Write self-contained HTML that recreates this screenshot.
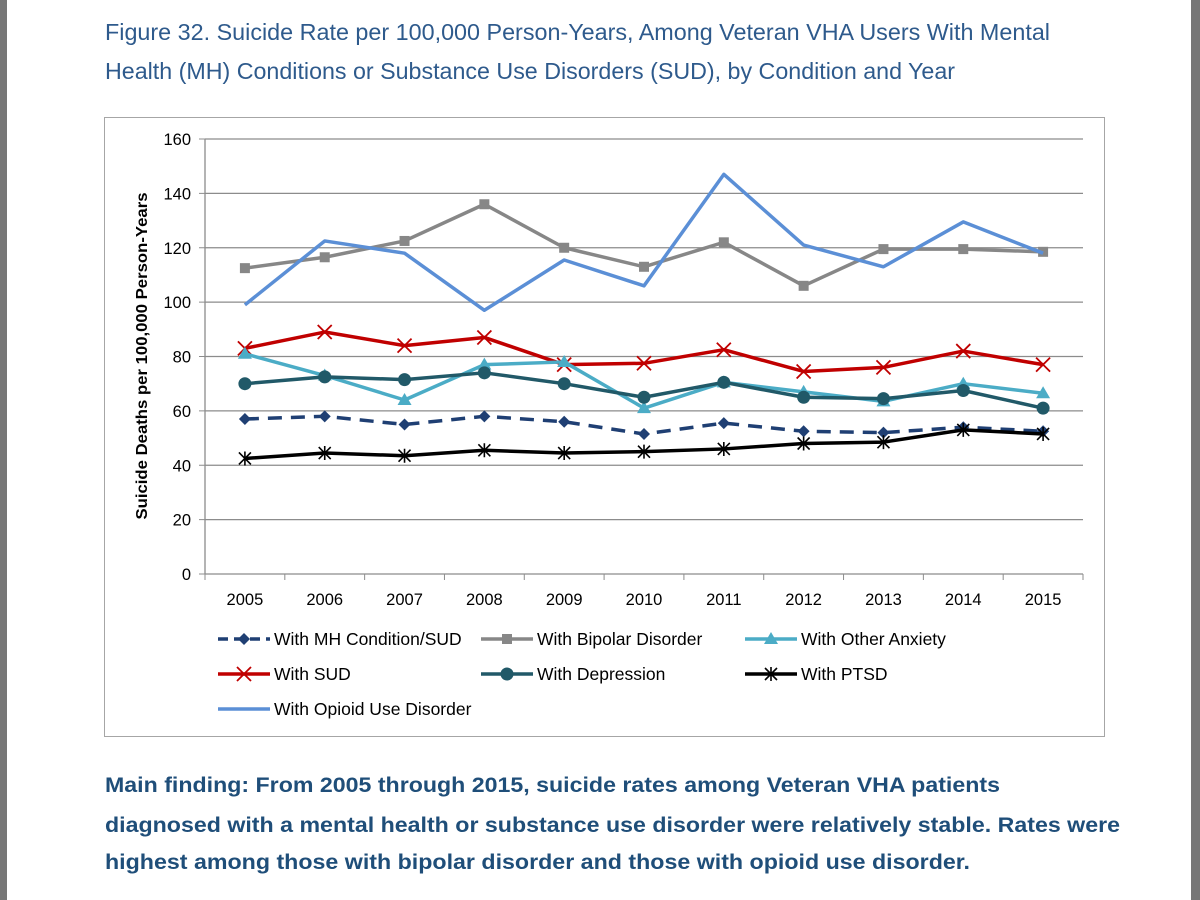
<!DOCTYPE html>
<html><head><meta charset="utf-8"><style>
html,body{margin:0;padding:0;background:#fff;}
svg{display:block;font-family:"Liberation Sans",sans-serif;}
</style></head><body>
<svg id="c" width="1200" height="900" viewBox="0 0 1200 900">
<rect x="0" y="0" width="7" height="900" fill="#777"/>
<rect x="1191" y="0" width="9" height="900" fill="#777"/>
<g fill="#2e5a8c" font-size="23">
<text x="105" y="40" textLength="945" lengthAdjust="spacingAndGlyphs">Figure 32. Suicide Rate per 100,000 Person-Years, Among Veteran VHA Users With Mental</text>
<text x="105" y="79" textLength="850" lengthAdjust="spacingAndGlyphs">Health (MH) Conditions or Substance Use Disorders (SUD), by Condition and Year</text>
</g>
<rect x="104.5" y="117.5" width="1000" height="619" fill="#fff" stroke="#a6a6a6"/>
<g id="grid"></g>
<g id="series"></g>
<text transform="translate(147,356) rotate(-90)" text-anchor="middle" font-size="16" font-weight="bold" fill="#000" textLength="327" lengthAdjust="spacingAndGlyphs">Suicide Deaths per 100,000 Person-Years</text>
<g id="legend" font-size="17.5" fill="#000"></g>
<g fill="#1f4e79" font-size="21" font-weight="bold">
<text x="105" y="792" textLength="895" lengthAdjust="spacingAndGlyphs">Main finding: From 2005 through 2015, suicide rates among Veteran VHA patients</text>
<text x="105" y="832" textLength="1015" lengthAdjust="spacingAndGlyphs">diagnosed with a mental health or substance use disorder were relatively stable. Rates were</text>
<text x="105" y="869" textLength="865" lengthAdjust="spacingAndGlyphs">highest among those with bipolar disorder and those with opioid use disorder.</text>
</g>
</svg>
<script>
const years=["2005","2006","2007","2008","2009","2010","2011","2012","2013","2014","2015"];
const yTicks=[0,20,40,60,80,100,120,140,160];
const mh=[57,58,55,58,56,51.5,55.5,52.5,52,54,52.5];
const bipolar=[112.5,116.5,122.5,136,120,113,122,106,119.5,119.5,118.5];
const anxiety=[81,73,64,77,78,61,70.5,67,63.5,70,66.5];
const sud=[83,89,84,87,77,77.5,82.5,74.5,76,82,77];
const depression=[70,72.5,71.5,74,70,65,70.5,65,64.5,67.5,61];
const ptsd=[42.5,44.5,43.5,45.5,44.5,45,46,48,48.5,53,51.5];
const opioid=[99,122.5,118,97,115.5,106,147,121,113,129.5,118];

const NS="http://www.w3.org/2000/svg";
const L=205,R=1083,T=139,B=574;
const bw=(R-L)/years.length;
const xs=i=>L+bw*(i+0.5);
const ys=v=>B-(v/160)*(B-T);
function mk(tag,attrs,parent){const e=document.createElementNS(NS,tag);for(const k in attrs)e.setAttribute(k,attrs[k]);parent.appendChild(e);return e;}
const grid=document.getElementById('grid');
yTicks.forEach(v=>{
  if(v>0){const g=mk('line',{x1:L,x2:R,y1:ys(v),y2:ys(v),stroke:'#8c8c8c','stroke-width':1.3},grid);
  
  }
  const tk=mk('line',{x1:L-6,x2:L,y1:ys(v),y2:ys(v),stroke:'#8c8c8c'},grid);
  
  
  const t=mk('text',{x:L-14,y:ys(v)+6,'text-anchor':'end','font-size':16.5},grid);t.textContent=v;
  
  
});
const ya=mk('line',{x1:L,x2:L,y1:T,y2:B,stroke:'#8c8c8c','stroke-width':1.3},grid);


const xa=mk('line',{x1:L,x2:R,y1:B,y2:B,stroke:'#8c8c8c','stroke-width':1.3},grid);


for(let i=0;i<=years.length;i++){const tk=mk('line',{x1:L+bw*i,x2:L+bw*i,y1:B,y2:B+6,stroke:'#8c8c8c'},grid);
  
  }
years.forEach((y,i)=>{const t=mk('text',{x:xs(i),y:B+31,'text-anchor':'middle','font-size':16.5},grid);t.textContent=y;
  
  });

function marker(g,type,x,y,c){
  if(type==='diamond')mk('path',{d:`M${x} ${y-6}L${x+6} ${y}L${x} ${y+6}L${x-6} ${y}Z`,fill:c},g);
  else if(type==='square')mk('rect',{x:x-5,y:y-5,width:10,height:10,fill:c},g);
  else if(type==='triangle')mk('path',{d:`M${x} ${y-7}L${x+7} ${y+5}L${x-7} ${y+5}Z`,fill:c},g);
  else if(type==='x')mk('path',{d:`M${x-7} ${y-7}L${x+7} ${y+7}M${x+7} ${y-7}L${x-7} ${y+7}`,stroke:c,'stroke-width':1.8},g);
  else if(type==='circle')mk('circle',{cx:x,cy:y,r:6.5,fill:c},g);
  else if(type==='star')mk('path',{d:`M${x-6} ${y-6}L${x+6} ${y+6}M${x+6} ${y-6}L${x-6} ${y+6}M${x} ${y-7}L${x} ${y+7}`,stroke:c,'stroke-width':1.6},g);
}
const defs=[
 {name:'mh',label:'With MH Condition/SUD',data:mh,c:'#1f3f73',m:'diamond',dash:'14 9'},
 {name:'bipolar',label:'With Bipolar Disorder',data:bipolar,c:'#878787',m:'square'},
 {name:'anxiety',label:'With Other Anxiety',data:anxiety,c:'#4bacc6',m:'triangle'},
 {name:'sud',label:'With SUD',data:sud,c:'#c00000',m:'x'},
 {name:'depression',label:'With Depression',data:depression,c:'#215968',m:'circle'},
 {name:'ptsd',label:'With PTSD',data:ptsd,c:'#000',m:'star'},
 {name:'opioid',label:'With Opioid Use Disorder',data:opioid,c:'#5b8fd6',m:null}
];
const sg=document.getElementById('series');
const order=['bipolar','opioid','sud','anxiety','depression','mh','ptsd'];
order.forEach(n=>{const s=defs.find(d=>d.name===n);
  const g=mk('g',{},sg);
  
  
  const pts=s.data.map((v,i)=>xs(i)+','+ys(v)).join(' ');
  const a={points:pts,fill:'none',stroke:s.c,'stroke-width':3.5,'stroke-linejoin':'round'};
  if(s.dash)a['stroke-dasharray']=s.dash;
  mk('polyline',a,g);
  if(s.m)s.data.forEach((v,i)=>marker(g,s.m,xs(i),ys(v),s.c));
});
const lg=document.getElementById('legend');
const cols=[218,481,745],rows=[639,674,709];
defs.forEach((s,i)=>{
  const x=cols[i%3],y=rows[Math.floor(i/3)];
  const g=mk('g',{},lg);
  
  
  const a={x1:x,x2:x+52,y1:y,y2:y,stroke:s.c,'stroke-width':3.5};
  if(s.dash)a['stroke-dasharray']='10 6';
  mk('line',a,g);
  if(s.m)marker(g,s.m,x+26,y,s.c);
  const t=mk('text',{x:x+56,y:y+6},g);t.textContent=s.label;
});
</script>
</body></html>
